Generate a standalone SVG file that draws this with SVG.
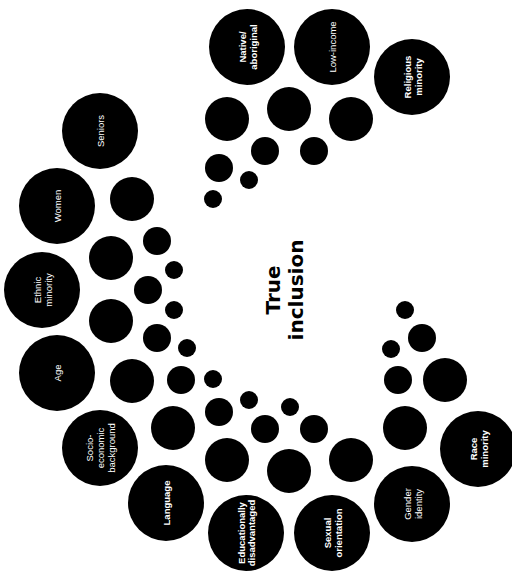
<svg xmlns="http://www.w3.org/2000/svg" width="512" height="574" viewBox="0 0 512 574">
<style>
  circle { fill: #000; }
  .lbl { fill: #fff; font-family: "Liberation Sans", Arial, sans-serif; font-size: 9.5px; text-anchor: middle; dominant-baseline: central; }
  .b { font-weight: bold; }
  .title { fill: #000; font-family: "DejaVu Sans", sans-serif; font-weight: bold; font-size: 20px; text-anchor: middle; }
</style>
<rect width="512" height="574" fill="#fff"/>
<g id="dots">
  <circle cx="227" cy="119" r="22"/>
  <circle cx="289" cy="109" r="22"/>
  <circle cx="351" cy="119" r="22"/>
  <circle cx="265" cy="151" r="14"/>
  <circle cx="314" cy="151" r="14"/>
  <circle cx="219" cy="168" r="14"/>
  <circle cx="249" cy="180" r="9"/>
  <circle cx="213" cy="199" r="9"/>
  <circle cx="132" cy="199" r="22"/>
  <circle cx="157" cy="241" r="14"/>
  <circle cx="111" cy="258" r="22"/>
  <circle cx="174" cy="270" r="9"/>
  <circle cx="148" cy="290" r="14"/>
  <circle cx="174" cy="310" r="9"/>
  <circle cx="111" cy="321" r="22"/>
  <circle cx="157" cy="338" r="14"/>
  <circle cx="187" cy="348" r="9"/>
  <circle cx="132" cy="381" r="22"/>
  <circle cx="181" cy="380" r="14"/>
  <circle cx="213" cy="379" r="9"/>
  <circle cx="173" cy="428" r="22"/>
  <circle cx="249" cy="400" r="9"/>
  <circle cx="290" cy="407" r="9"/>
  <circle cx="219" cy="412" r="14"/>
  <circle cx="265" cy="429" r="14"/>
  <circle cx="314" cy="429" r="14"/>
  <circle cx="227" cy="460" r="22"/>
  <circle cx="289" cy="471" r="22"/>
  <circle cx="351" cy="460" r="22"/>
  <circle cx="405" cy="428" r="22"/>
  <circle cx="398" cy="380" r="14"/>
  <circle cx="445" cy="380" r="22"/>
  <circle cx="391" cy="349" r="9"/>
  <circle cx="422" cy="338" r="14"/>
  <circle cx="405" cy="310" r="9"/>
</g>
<g id="native" transform="translate(247,47)">
  <circle r="38"/>
  <text class="lbl b" transform="rotate(-90)"><tspan x="0" y="-5">Native/</tspan><tspan x="0" y="5.5">aboriginal</tspan></text>
</g>
<g id="low-income" transform="translate(332,47)">
  <circle r="38"/>
  <text class="lbl" transform="rotate(-90)" x="0" y="0">Low-income</text>
</g>
<g id="religious" transform="translate(412,77)">
  <circle r="38"/>
  <text class="lbl b" transform="rotate(-90)"><tspan x="0" y="-5">Religious</tspan><tspan x="0" y="5.5">minority</tspan></text>
</g>
<g id="seniors" transform="translate(100,131)">
  <circle r="38"/>
  <text class="lbl" transform="rotate(-90)" x="0" y="0">Seniors</text>
</g>
<g id="women" transform="translate(57,206)">
  <circle r="38"/>
  <text class="lbl" transform="rotate(-90)" x="0" y="0">Women</text>
</g>
<g id="ethnic" transform="translate(42,290)">
  <circle r="38"/>
  <text class="lbl" transform="rotate(-90)"><tspan x="0" y="-5.5">Ethnic</tspan><tspan x="0" y="5.5">minority</tspan></text>
</g>
<g id="age" transform="translate(57,373)">
  <circle r="38"/>
  <text class="lbl" transform="rotate(-90)" x="0" y="0">Age</text>
</g>
<g id="socio" transform="translate(100,448)">
  <circle r="38"/>
  <text class="lbl" transform="rotate(-90)"><tspan x="0" y="-11">Socio-</tspan><tspan x="0" y="0">economic</tspan><tspan x="0" y="11">background</tspan></text>
</g>
<g id="language" transform="translate(166,503)">
  <circle r="38"/>
  <text class="lbl b" transform="rotate(-90)" x="0" y="0">Language</text>
</g>
<g id="educational" transform="translate(246,533)">
  <circle r="38"/>
  <text class="lbl b" transform="rotate(-90)"><tspan x="0" y="-5">Educationally</tspan><tspan x="0" y="5">disadvantaged</tspan></text>
</g>
<g id="sexual" transform="translate(332,533)">
  <circle r="38"/>
  <text class="lbl b" transform="rotate(-90)"><tspan x="0" y="-5">Sexual</tspan><tspan x="0" y="5.5">orientation</tspan></text>
</g>
<g id="gender" transform="translate(412,504)">
  <circle r="38"/>
  <text class="lbl" transform="rotate(-90)"><tspan x="0" y="-5">Gender</tspan><tspan x="0" y="5.5">identity</tspan></text>
</g>
<g id="race" transform="translate(478,449)">
  <circle r="38"/>
  <text class="lbl b" transform="rotate(-90)"><tspan x="0" y="-5">Race</tspan><tspan x="0" y="5.5">minority</tspan></text>
</g>
<g id="center" transform="translate(270,290) rotate(-90)">
  <text class="title"><tspan x="0" y="10">True</tspan><tspan x="0" y="33">inclusion</tspan></text>
</g>
</svg>
